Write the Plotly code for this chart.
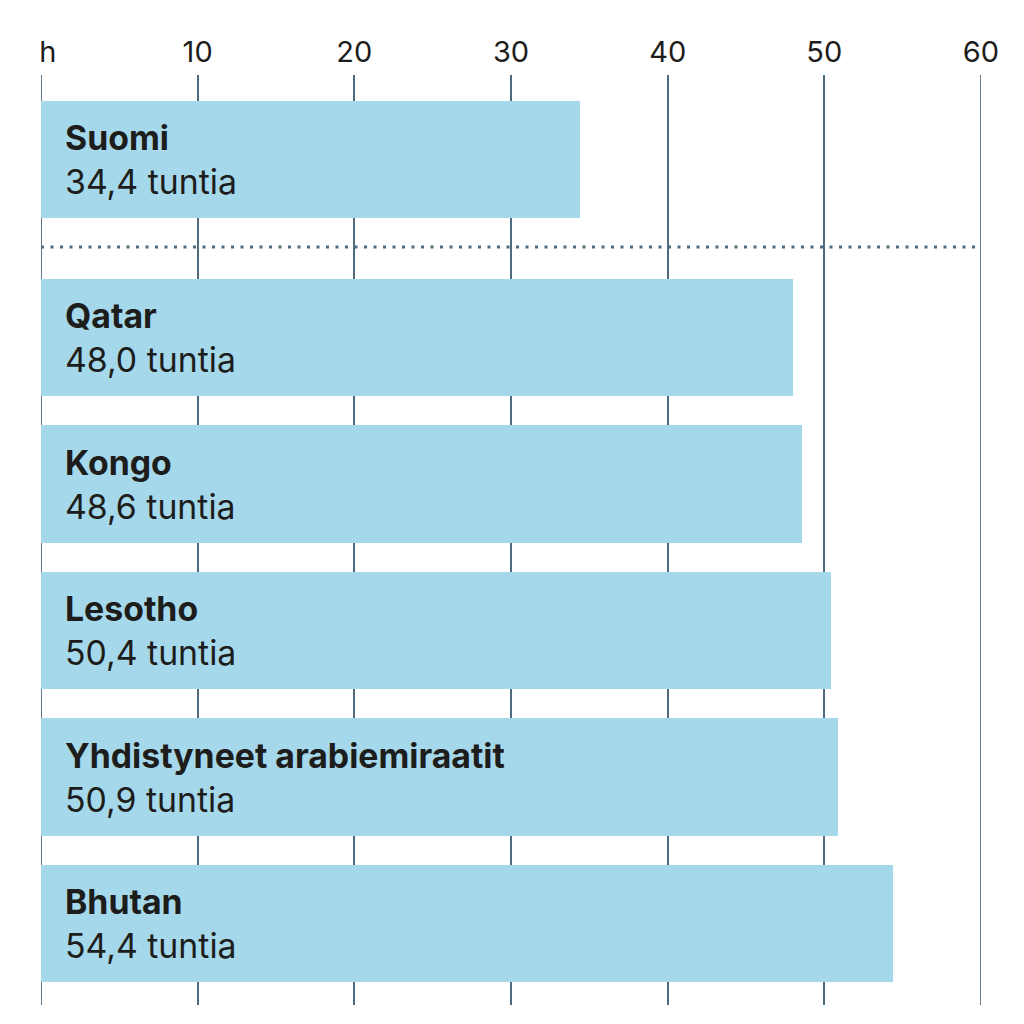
import plotly.graph_objects as go

countries = ["Suomi", "Qatar", "Kongo", "Lesotho", "Yhdistyneet arabiemiraatit", "Bhutan"]
hours = [34.4, 48.0, 48.6, 50.4, 50.9, 54.4]
value_labels = ["34,4 tuntia", "48,0 tuntia", "48,6 tuntia", "50,4 tuntia", "50,9 tuntia", "54,4 tuntia"]
tick_vals = [0, 10, 20, 30, 40, 50, 60]
tick_text = ["\u00a0\u2009h", "10", "20", "30", "40", "50", "60"]

BAR = "#a5d8eb"
GRID = "#4f6b7f"
TXT = "#1d1d1b"
FONT = "Inter"

# positions: Suomi separated from the rest by an extra gap
gap = 0.215
ypos = [0 if i == 0 else i + gap for i in range(len(countries))]
y_top = -0.577
y_bot = ypos[-1] + 0.556

fig = go.Figure()

# gridlines at the range edges (plotly hides edge gridlines)
for xv in (tick_vals[0], tick_vals[-1]):
    fig.add_shape(type="line", xref="x", yref="y", x0=xv, x1=xv, y0=y_top, y1=y_bot,
                  line=dict(color=GRID, width=1.8), layer="below")

fig.add_trace(go.Bar(
    x=hours, y=ypos, orientation="h", width=0.8,
    marker=dict(color=BAR, line=dict(width=0)),
    hoverinfo="skip", showlegend=False,
))

for c, v, y in zip(countries, value_labels, ypos):
    fig.add_annotation(
        x=0, y=y, xref="x", yref="y", xanchor="left", yanchor="middle",
        xshift=22, showarrow=False, align="left",
        text=f"<b>{c}</b><br>{v}",
        font=dict(family=FONT, size=33.8, color=TXT),
    )

sep_y = (ypos[0] + ypos[1]) / 2 - 0.01
fig.add_shape(type="line", xref="x", yref="y", x0=0, x1=60, y0=sep_y, y1=sep_y,
              line=dict(color=GRID, width=3, dash="3px,6.5px"), layer="above")

fig.update_layout(
    width=1016, height=1016,
    margin=dict(l=33, r=43, t=67, b=19),
    paper_bgcolor="white", plot_bgcolor="white",
    bargap=0,
    xaxis=dict(
        range=[0, 60], side="top", tickvals=tick_vals, ticktext=tick_text,
        showgrid=True, gridcolor=GRID, gridwidth=1.5, zeroline=False,
        showline=False, ticks="", ticklabelstandoff=6,
        tickfont=dict(family=FONT, size=29, color=TXT),
    ),
    yaxis=dict(
        range=[y_bot, y_top], showgrid=False, zeroline=False,
        showticklabels=False, ticks="", showline=False,
    ),
)

fig.write_html("out.html")
